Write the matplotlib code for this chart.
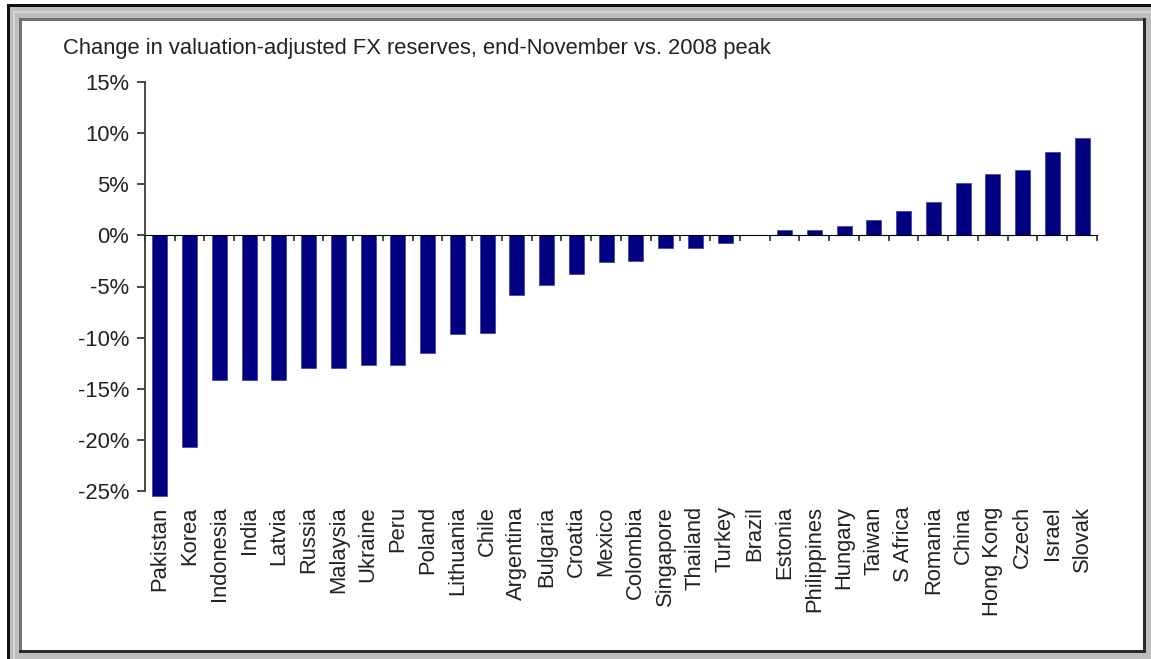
import matplotlib
matplotlib.use("Agg")
import matplotlib.pyplot as plt
from matplotlib.patches import Rectangle
import numpy as np

# Change in valuation-adjusted FX reserves, end-November vs. 2008 peak (%)
countries = [
    "Pakistan", "Korea", "Indonesia", "India", "Latvia", "Russia", "Malaysia",
    "Ukraine", "Peru", "Poland", "Lithuania", "Chile", "Argentina", "Bulgaria",
    "Croatia", "Mexico", "Colombia", "Singapore", "Thailand", "Turkey", "Brazil",
    "Estonia", "Philippines", "Hungary", "Taiwan", "S Africa", "Romania", "China",
    "Hong Kong", "Czech", "Israel", "Slovak",
]
change_pct = [
    -25.5, -20.7, -14.1, -14.1, -14.1, -13.0, -13.0,
    -12.65, -12.65, -11.5, -9.65, -9.5, -5.8, -4.9,
    -3.75, -2.65, -2.5, -1.2, -1.2, -0.7, 0.0,
    0.55, 0.55, 0.95, 1.5, 2.4, 3.3, 5.1,
    6.0, 6.4, 8.2, 9.5,
]
y_ticks = [-25, -20, -15, -10, -5, 0, 5, 10, 15]
y_tick_labels = [f"{v}%" for v in y_ticks]
title = "Change in valuation-adjusted FX reserves, end-November vs. 2008 peak"

W, H = 1151, 659
DPI = 100
plt.rcParams["font.family"] = ["Liberation Sans", "DejaVu Sans"]
TEXT = "#222222"
AXIS = "#3a3a3a"
BAR = "#000080"
FS = 15.8

fig = plt.figure(figsize=(W / DPI, H / DPI), dpi=DPI, facecolor="white")


def frame_rect(x0, y0, x1, y1, color):
    """Rectangle given in pixel coordinates (origin at top-left)."""
    fig.add_artist(Rectangle((x0 / W, 1 - y1 / H), (x1 - x0) / W, (y1 - y0) / H,
                             transform=fig.transFigure, facecolor=color,
                             edgecolor="none", zorder=-10))


# sunken frame around the chart
frame_rect(7, 4, W, H, "#bdbdbd")
frame_rect(7, 4, W, 7, "#111111")
frame_rect(7, 4, 10, H, "#111111")
frame_rect(13, 11, W, 13, "#d6d6d6")
frame_rect(13, 11, 15, H, "#d6d6d6")
frame_rect(19, 18, 1146, 653, "#2a2a2a")
frame_rect(19, 18, 1143, 650, "#707070")
frame_rect(22, 21, 1143, 650, "white")

# plot area
ax_left, ax_right, ax_top, ax_bottom = 145, 1097, 82, 491
ax = fig.add_axes([ax_left / W, 1 - ax_bottom / H,
                   (ax_right - ax_left) / W, (ax_bottom - ax_top) / H])
ax.set_facecolor("none")

x = np.arange(len(countries))
ax.bar(x, change_pct, width=0.5, color=BAR, edgecolor="#2a2aa0",
       linewidth=0.4, zorder=2, clip_on=False)

ymin, ymax = y_ticks[0], y_ticks[-1]
ax.set_ylim(ymin, ymax)
ax.set_xlim(-0.5, len(countries) - 0.5)

for side in ("top", "right", "bottom"):
    ax.spines[side].set_visible(False)
ax.spines["left"].set_color(AXIS)
ax.spines["left"].set_linewidth(1.3)

ax.set_yticks(y_ticks)
ax.set_yticklabels(y_tick_labels)
ax.tick_params(axis="y", direction="out", length=5.5, width=1.3, color=AXIS,
               pad=6, labelsize=FS, labelcolor=TEXT)

# category labels below the plot
ax.set_xticks(x)
ax.set_xticklabels(countries, rotation=90)
ax.tick_params(axis="x", length=0, pad=11, labelsize=FS, labelcolor=TEXT)

# zero line with category-divider ticks
zero_loc = (0 - ymin) / (ymax - ymin)
zero_axis = ax.secondary_xaxis(zero_loc)
zero_axis.spines["bottom"].set_color(AXIS)
zero_axis.spines["bottom"].set_linewidth(1.3)
zero_axis.set_xticks(np.arange(len(countries) + 1) - 0.5)
zero_axis.tick_params(axis="x", which="both", direction="out", length=4,
                      width=1.3, color=AXIS, bottom=True, top=False,
                      labelbottom=False, labeltop=False)
zero_axis.set_zorder(3)

fig.text(63 / W, 1 - 54 / H, title, fontsize=FS, color=TEXT,
         ha="left", va="baseline")

fig.savefig("out.png", dpi=DPI, facecolor=fig.get_facecolor())
